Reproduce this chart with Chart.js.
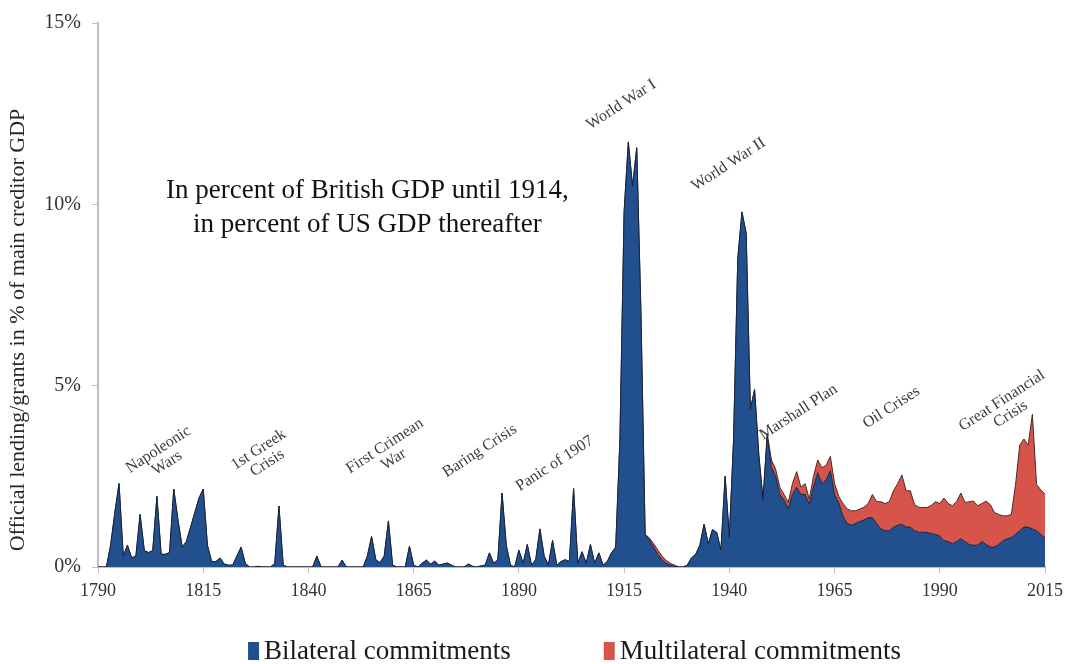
<!DOCTYPE html>
<html>
<head>
<meta charset="utf-8">
<script src="https://cdn.jsdelivr.net/npm/chart.js@4.4.0/dist/chart.umd.min.js"></script>
<style>
  html, body { margin: 0; padding: 0; background: #fff; }
  #wrap { width: 1070px; height: 664px; }
</style>
</head>
<body>
<div id="wrap"><canvas id="myChart" width="1070" height="664"></canvas></div>
<script>
var ctx = document.getElementById("myChart").getContext("2d");

var firstYear = 1790;
var lastYear = 2015;
var years = [];
for (var yr = firstYear; yr <= lastYear; yr++) years.push(String(yr));

var xTickYears = [1790, 1815, 1840, 1865, 1890, 1915, 1940, 1965, 1990, 2015];

// % of main creditor GDP, one value per year from 1790
var bilateral = [
  0, 0, 0, 0.6, 1.5, 2.3, 0.3, 0.6, 0.25, 0.3,
  1.45, 0.45, 0.4, 0.45, 1.95, 0.35, 0.35, 0.4, 2.15, 1.3,
  0.55, 0.7, 1.1, 1.5, 1.9, 2.15, 0.6, 0.15, 0.15, 0.25,
  0.08, 0.05, 0.05, 0.3, 0.55, 0.1, 0, 0, 0.02, 0,
  0, 0, 0.1, 1.68, 0.05, 0, 0, 0, 0, 0,
  0, 0, 0.3, 0, 0, 0, 0, 0, 0.19, 0,
  0, 0, 0, 0, 0.3, 0.84, 0.2, 0.12, 0.3, 1.27,
  0.05, 0, 0, 0, 0.57, 0.05, 0, 0.1, 0.19, 0.08,
  0.16, 0.05, 0.08, 0.11, 0.05, 0, 0, 0, 0.08, 0.02,
  0, 0.03, 0.05, 0.39, 0.1, 0.2, 2.04, 0.6, 0.05, 0,
  0.46, 0.1, 0.62, 0.05, 0.2, 1.05, 0.3, 0.05, 0.73, 0.05,
  0.15, 0.2, 0.15, 2.16, 0.1, 0.42, 0.1, 0.62, 0.1, 0.39,
  0.05, 0.15, 0.39, 0.55, 3.5, 9.8, 11.72, 10.5, 11.56, 7.0,
  0.9, 0.75, 0.55, 0.35, 0.2, 0.1, 0.05, 0.02, 0, 0,
  0.05, 0.25, 0.35, 0.6, 1.18, 0.64, 1.03, 0.95, 0.46, 2.5,
  0.82, 3.5, 8.5, 9.79, 9.2, 4.35, 4.89, 3.1, 1.86, 3.63,
  2.75, 2.5, 2.0, 1.85, 1.6, 2.0, 2.2, 2.0, 2.0, 1.73,
  2.2, 2.6, 2.3, 2.4, 2.65, 2.0, 1.77, 1.4, 1.2, 1.15,
  1.2, 1.25, 1.3, 1.36, 1.36, 1.2, 1.05, 1.0, 1.0, 1.1,
  1.15, 1.18, 1.1, 1.1, 1.0, 0.96, 0.96, 0.95, 0.92, 0.9,
  0.85, 0.73, 0.7, 0.64, 0.7, 0.78, 0.7, 0.62, 0.6, 0.6,
  0.7, 0.62, 0.55, 0.55, 0.62, 0.72, 0.78, 0.81, 0.9, 1.0,
  1.1, 1.1, 1.05, 1.0, 0.9, 0.8
];

// stacked on top of bilateral
var multilateral = [
  0, 0, 0, 0, 0, 0, 0, 0, 0, 0,
  0, 0, 0, 0, 0, 0, 0, 0, 0, 0,
  0, 0, 0, 0, 0, 0, 0, 0, 0, 0,
  0, 0, 0, 0, 0, 0, 0, 0, 0, 0,
  0, 0, 0, 0, 0, 0, 0, 0, 0, 0,
  0, 0, 0, 0, 0, 0, 0, 0, 0, 0,
  0, 0, 0, 0, 0, 0, 0, 0, 0, 0,
  0, 0, 0, 0, 0, 0, 0, 0, 0, 0,
  0, 0, 0, 0, 0, 0, 0, 0, 0, 0,
  0, 0, 0, 0, 0, 0, 0, 0, 0, 0,
  0, 0, 0, 0, 0, 0, 0, 0, 0, 0,
  0, 0, 0, 0, 0, 0, 0, 0, 0, 0,
  0, 0, 0, 0, 0, 0, 0, 0, 0, 0,
  0, 0.05, 0.1, 0.12, 0.1, 0.08, 0.05, 0.03, 0, 0,
  0, 0, 0, 0, 0, 0, 0, 0, 0, 0,
  0, 0, 0, 0, 0, 0, 0, 0, 0, 0.05,
  0.2, 0.2, 0.2, 0.15, 0.18, 0.3, 0.43, 0.2, 0.3, 0.14,
  0.3, 0.35, 0.44, 0.4, 0.4, 0.3, 0.18, 0.35, 0.4, 0.4,
  0.35, 0.35, 0.35, 0.39, 0.64, 0.6, 0.75, 0.75, 0.8, 1.0,
  1.15, 1.36, 1.0, 1.0, 0.72, 0.69, 0.68, 0.69, 0.78, 0.9,
  0.9, 1.17, 1.05, 1.05, 1.1, 1.26, 1.08, 1.18, 1.22, 1.09,
  1.05, 1.2, 1.17, 0.95, 0.83, 0.69, 0.63, 0.64, 1.37, 2.36,
  2.43, 2.26, 3.16, 1.27, 1.23, 1.2
];

var seriesNames = ["Bilateral commitments", "Multilateral commitments"];
var yAxisTitle = "Official lending/grants in % of main creditor GDP";
var mainNote = ["In percent of British GDP until 1914,", "in percent of US GDP thereafter"];

// event labels: anchor year / value on the chart
var eventNotes = [
  { text: ["Napoleonic", "Wars"], year: 1805.4, value: 3.05 },
  { text: ["1st Greek", "Crisis"], year: 1829.2, value: 3.05 },
  { text: ["First Crimean", "War"], year: 1859.2, value: 3.15 },
  { text: ["Baring Crisis"], year: 1880.7, value: 3.2 },
  { text: ["Panic of 1907"], year: 1898.5, value: 2.85 },
  { text: ["World War I"], year: 1914.3, value: 12.75 },
  { text: ["World War II"], year: 1939.8, value: 11.1 },
  { text: ["Marshall Plan"], year: 1956.4, value: 4.27 },
  { text: ["Oil Crises"], year: 1978.5, value: 4.4 },
  { text: ["Great Financial", "Crisis"], year: 2005.8, value: 4.4 }
];

var serif = "'Liberation Serif', 'Times New Roman', serif";
Chart.defaults.font.family = serif;

var textPlugin = {
  id: "textPlugin",
  afterDraw: function (chart) {
    var c = chart.ctx;
    var xs = chart.scales.x;
    var ys = chart.scales.y;
    var area = chart.chartArea;
    c.save();
    c.textAlign = "center";
    c.textBaseline = "middle";

    // y axis title
    c.save();
    c.translate(18, 330);
    c.rotate(-Math.PI / 2);
    c.font = "22px " + serif;
    c.fillStyle = "#262626";
    c.fillText(yAxisTitle, 0, 0);
    c.restore();

    // main note
    c.font = "27px " + serif;
    c.fillStyle = "#111";
    var mx = xs.getPixelForValue(1854 - firstYear);
    var my = ys.getPixelForValue(9.9);
    c.fillText(mainNote[0], mx, my - 17);
    c.fillText(mainNote[1], mx, my + 17);

    // rotated event labels
    c.font = "16px " + serif;
    c.fillStyle = "#3a3a3a";
    eventNotes.forEach(function (n) {
      var px = xs.getPixelForValue(n.year - firstYear);
      var py = ys.getPixelForValue(n.value);
      c.save();
      c.translate(px, py);
      c.rotate(-33 * Math.PI / 180);
      var off = (n.text.length - 1) * 8;
      n.text.forEach(function (t, i) {
        c.fillText(t, 0, -off + i * 16);
      });
      c.restore();
    });

    // legend
    c.font = "27px " + serif;
    c.textAlign = "left";
    var box = 11, gap = 5, itemGap = 93;
    var ds = chart.data.datasets;
    var widths = ds.map(function (d) { return box + gap + c.measureText(d.label).width; });
    var total = widths.reduce(function (a, b) { return a + b; }, 0) + itemGap * (ds.length - 1);
    var lx = (area.left + area.right) / 2 - total / 2 + 3;
    var ly = 651;
    ds.forEach(function (d, i) {
      c.fillStyle = d.backgroundColor;
      c.fillRect(lx, ly - 9, box, 18);
      c.fillStyle = "#1a1a1a";
      c.fillText(d.label, lx + box + gap, ly + 1);
      lx += widths[i] + itemGap;
    });
    c.restore();
  }
};

var myChart = new Chart(ctx, {
  type: "line",
  data: {
    labels: years,
    datasets: [
      {
        label: seriesNames[0],
        data: bilateral,
        backgroundColor: "#22508e",
        borderColor: "#17253d",
        borderWidth: 1,
        pointRadius: 0,
        tension: 0,
        fill: "origin"
      },
      {
        label: seriesNames[1],
        data: multilateral,
        backgroundColor: "#d65449",
        borderColor: "#4a2b2b",
        borderWidth: 1,
        pointRadius: 0,
        tension: 0,
        fill: "-1"
      }
    ]
  },
  options: {
    responsive: false,
    animation: false,
    layout: { padding: { left: 0, right: 24, top: 13, bottom: 67 } },
    plugins: {
      legend: { display: false },
      tooltip: { enabled: false }
    },
    scales: {
      x: {
        type: "category",
        offset: false,
        afterFit: function (scale) { scale.height = 30; },
        grid: { drawOnChartArea: false, drawTicks: true, tickLength: 6, color: "#bfbfbf", lineWidth: 1 },
        border: { display: true, color: "#bfbfbf", width: 2 },
        ticks: {
          autoSkip: false,
          maxRotation: 0,
          minRotation: 0,
          padding: 7,
          color: "#333",
          font: { size: 18, family: serif },
          callback: function (value) {
            var label = this.getLabelForValue(value);
            return xTickYears.indexOf(Number(label)) >= 0 ? label : null;
          }
        }
      },
      y: {
        stacked: true,
        min: 0,
        max: 15,
        afterFit: function (scale) { scale.width = 98; },
        grid: { drawOnChartArea: false, drawTicks: true, tickLength: 6, color: "#bfbfbf" },
        border: { display: true, color: "#bfbfbf", width: 2 },
        ticks: {
          stepSize: 5,
          padding: 11,
          color: "#333",
          font: { size: 20, family: serif },
          callback: function (v) { return v + "%"; }
        }
      }
    }
  },
  plugins: [textPlugin]
});
</script>
</body>
</html>
